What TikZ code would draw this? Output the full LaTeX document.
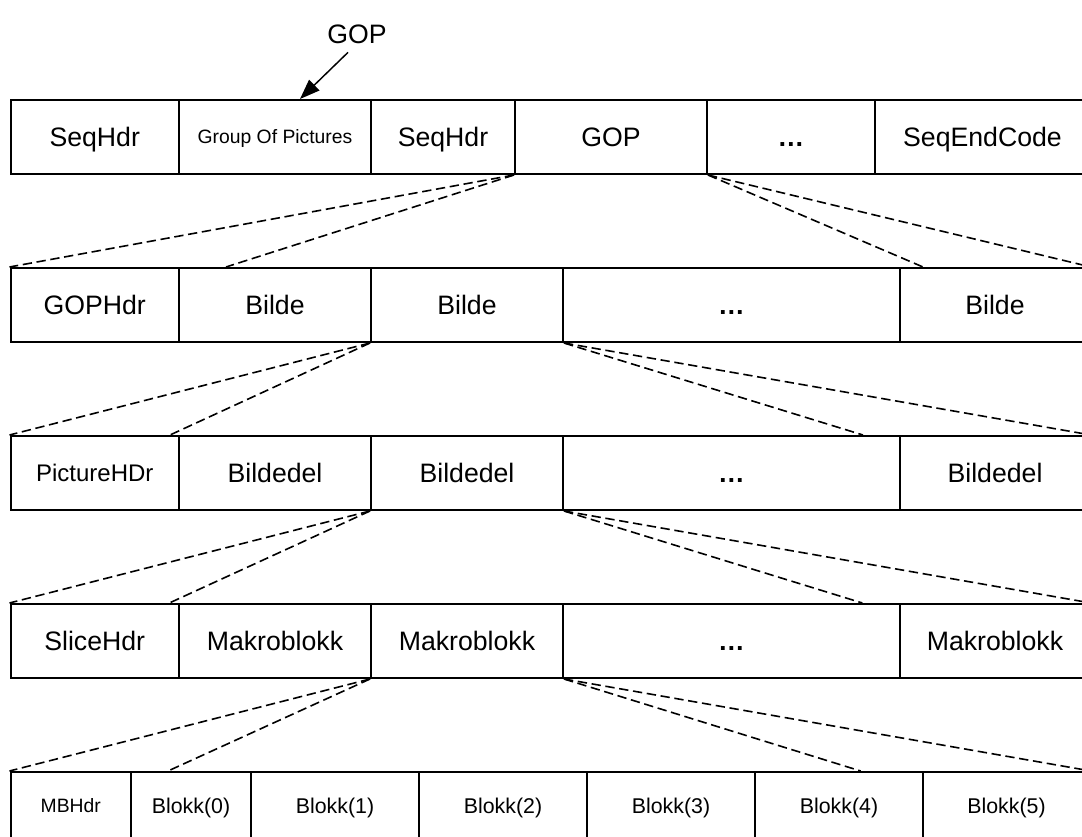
\documentclass[tikz,border=0pt]{standalone}
\usepackage{fontspec}
\setmainfont{Liberation Sans}
\usetikzlibrary{arrows.meta}

% one cell of a layer: [options]{name}{left x}{right x}{top y}{text}
\newcommand\mkcell[6][]{%
  \pgfmathsetmacro\cellw{(#4-#3)*0.75}%
  \pgfmathsetmacro\cellx{(#3+#4)/2}%
  \node[cell,minimum width=\cellw pt,#1] (#2) at (\cellx,#5+37) {#6};}
\newcommand\moredots{\textbf{…}}

\begin{document}
\begin{tikzpicture}[x=0.75pt,y=-0.75pt,
  cell/.style={draw,line width=1.5pt,inner sep=0pt,minimum height=55.5pt,
    font=\fontsize{20}{24}\selectfont,text height=14.3pt,text depth=0pt},
  small/.style={font=\fontsize{14.5}{17}\selectfont,text height=10.4pt},
  mid/.style={font=\fontsize{18}{21}\selectfont,text height=12.9pt},
  blk/.style={font=\fontsize{16}{19}\selectfont,text height=11.5pt},
  lowrow/.style={text depth=5pt},
  zoomline/.style={line width=1.2pt,dash pattern=on 7pt off 3.5pt},
  pointer/.style={line width=1.1pt,-{Triangle[length=15pt,width=11pt]}}]
\path[use as bounding box] (0,0) rectangle (1082,837);
\clip (0,0) rectangle (1082,837);
\fill[white] (0,0) rectangle (1082,837);

% sequence layer
\mkcell{a1}{10.5}{179}{100}{SeqHdr}
\mkcell[small]{a2}{179}{371}{100}{Group Of Pictures}
\mkcell{a3}{371}{515}{100}{SeqHdr}
\mkcell{a4}{515}{707}{100}{GOP}
\mkcell{a5}{707}{875}{100}{\moredots}
\mkcell{a6}{875}{1090}{100}{SeqEndCode}

% GOP layer
\mkcell{b1}{10.5}{179}{268}{GOPHdr}
\mkcell{b2}{179}{371}{268}{Bilde}
\mkcell{b3}{371}{563}{268}{Bilde}
\mkcell{b4}{563}{900}{268}{\moredots}
\mkcell{b5}{900}{1090}{268}{Bilde}

% picture layer
\mkcell[mid]{c1}{10.5}{179}{436}{PictureHDr}
\mkcell{c2}{179}{371}{436}{Bildedel}
\mkcell{c3}{371}{563}{436}{Bildedel}
\mkcell{c4}{563}{900}{436}{\moredots}
\mkcell{c5}{900}{1090}{436}{Bildedel}

% slice layer
\mkcell{d1}{10.5}{179}{604}{SliceHdr}
\mkcell{d2}{179}{371}{604}{Makroblokk}
\mkcell{d3}{371}{563}{604}{Makroblokk}
\mkcell{d4}{563}{900}{604}{\moredots}
\mkcell{d5}{900}{1090}{604}{Makroblokk}

% macroblock layer
\mkcell[small,lowrow]{e1}{10.5}{131}{772}{MBHdr}
\mkcell[blk,lowrow]{e2}{131}{251}{772}{Blokk(0)}
\mkcell[blk,lowrow]{e3}{251}{419}{772}{Blokk(1)}
\mkcell[blk,lowrow]{e4}{419}{587}{772}{Blokk(2)}
\mkcell[blk,lowrow]{e5}{587}{755}{772}{Blokk(3)}
\mkcell[blk,lowrow]{e6}{755}{923}{772}{Blokk(4)}
\mkcell[blk,lowrow]{e7}{923}{1090}{772}{Blokk(5)}

% expansion lines between layers
\draw[zoomline] (a4.south west) -- (b1.north west);
\draw[zoomline] (a4.south west) -- ([xshift=36pt]b2.north west);
\draw[zoomline] (a4.south east) -- ([xshift=18pt]b5.north west);
\draw[zoomline] (a4.south east) -- (b5.north east);

\draw[zoomline] (b3.south west) -- (c1.north west);
\draw[zoomline] (b3.south west) -- ([xshift=-7.5pt]c1.north east);
\draw[zoomline] (b3.south east) -- ([xshift=-28.5pt]c4.north east);
\draw[zoomline] (b3.south east) -- (c5.north east);

\draw[zoomline] (c3.south west) -- (d1.north west);
\draw[zoomline] (c3.south west) -- ([xshift=-8pt]d1.north east);
\draw[zoomline] (c3.south east) -- ([xshift=-29pt]d4.north east);
\draw[zoomline] (c3.south east) -- (d5.north east);

\draw[zoomline] (d3.south west) -- (e1.north west);
\draw[zoomline] (d3.south west) -- ([xshift=28.5pt]e2.north west);
\draw[zoomline] (d3.south east) -- ([xshift=80pt]e6.north west);
\draw[zoomline] (d3.south east) -- (e7.north east);

% label pointing at the group of pictures
\node[font=\fontsize{20}{24}\selectfont,inner sep=2pt] (gop) at (357,34) {GOP};
\draw[pointer] ([xshift=-6.75pt,yshift=-4.5pt]gop.south) -- ([xshift=18.75pt]a2.north);
\end{tikzpicture}
\end{document}
